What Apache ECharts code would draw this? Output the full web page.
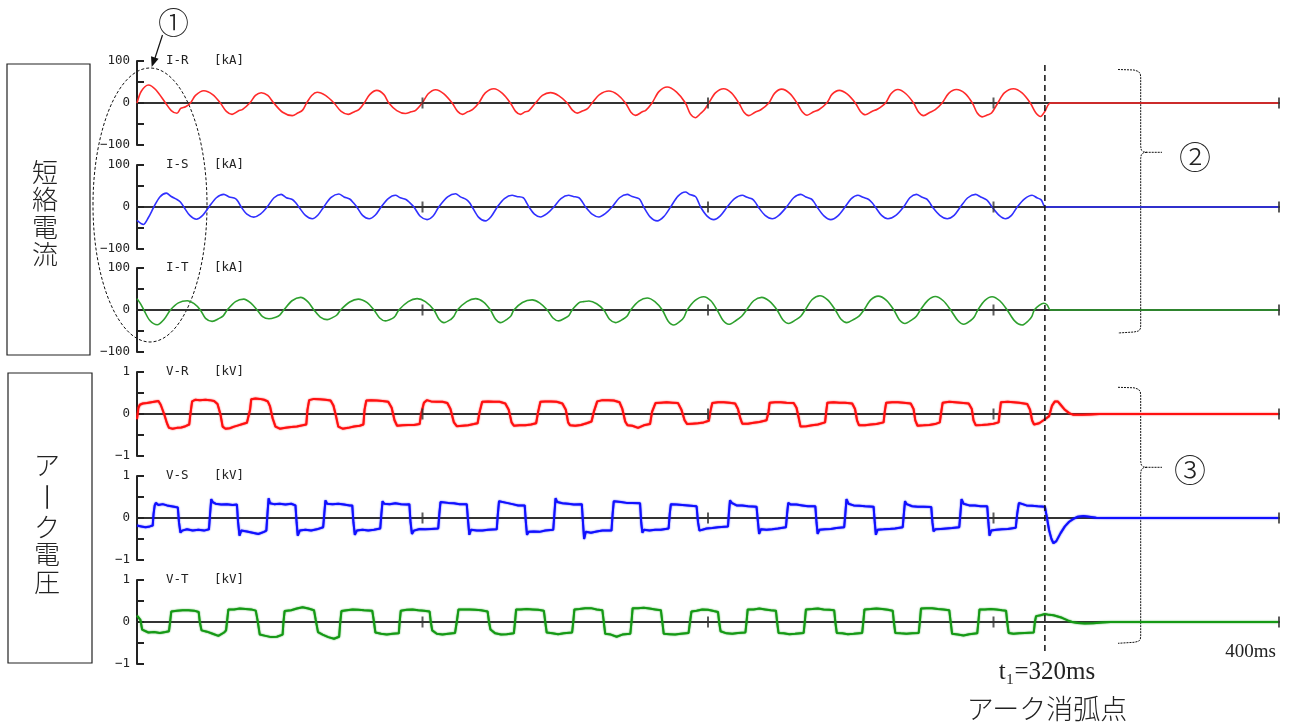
<!DOCTYPE html>
<html><head><meta charset="utf-8">
<script src="https://cdn.jsdelivr.net/npm/echarts@6/dist/echarts.min.js"></script>
<style>html,body{margin:0;padding:0;background:#fff}#c{width:1290px;height:727px}</style>
</head><body><div id="c"></div>
<script>
// ---- data (time ms, value) ----
const panelNames = ['I-R','I-S','I-T','V-R','V-S','V-T'];
const panelUnits = ['[kA]','[kA]','[kA]','[kV]','[kV]','[kV]'];
const currentTicks = ['−100','0','100'];
const voltageTicks = ['−1','0','1'];
const xTicks = [100,200,300,400];
const arcEnd = 318;
const arcLabel = 't₁=320ms';
const arcText = 'アーク消弧点';
const endLabel = '400ms';
const groupLabels = ['短絡電流','アーク電圧'];
const marks = ['①','②','③'];

const iR = [
[0,0],[1.5,28],[4,43],[6.5,32],[10,0],[12,-18],[14,-24.5],[15.3,-13],[17,-9],[18.7,0],
[20.5,18],[23.4,29],[26.5,20],[29.2,0],[31.3,-20],[33.3,-27],[35.5,-19],[37,-15],[39.5,0],
[41.5,18],[43.5,24.5],[45.8,18],[47.9,0],[51,-22],[54.4,-30],[56.3,-24],[58,-17],[59.4,0],
[61.2,18],[63.1,25.5],[66,18],[69,0],[71.5,-20],[74,-27],[76.3,-20],[77.7,-16],[79.6,0],
[81.5,20],[84,30],[86.5,20],[88.2,0],[91,-18],[94,-25],[96,-21],[97.6,-17.5],[99.9,0],
[102,22],[104.6,31.7],[107.5,22],[110.4,0],[112.3,-20],[114,-27],[115.8,-21],[117.5,-16],[119.7,0],
[122,24],[125,34],[128,23],[130.8,0],[132.6,-20],[134.3,-27],[136,-21],[137.2,-19],[139.6,0],
[142,18],[144.8,24.6],[147.8,17],[150.7,0],[152.5,-17],[154.2,-24],[156,-19],[157.8,-13.5],[159.4,0],
[162,20],[165.3,28.6],[168.3,20],[171.1,0],[173,-22],[174.6,-29.4],[177,-21],[178.2,-17.5],[180.4,0],
[182.8,27],[185.7,38],[189,26],[192.1,0],[193.8,-26],[195.6,-35],[197.4,-25],[198.6,-17.5],[200.3,0],
[202.6,24],[205.5,34],[208.2,24],[210.8,0],[212.6,-22],[214.3,-30],[216.5,-22],[218.5,-16],[221.3,0],
[223.3,23],[225.8,33],[228.6,23],[231.2,0],[233,-21],[234.7,-29],[237,-21],[238.8,-16],[241.6,0],
[243.5,21],[246,30],[248.8,21],[251.6,0],[253.4,-20],[255.1,-28],[257.4,-20],[259.3,-15],[262.2,0],
[264.1,22],[266.5,32],[269.3,22],[272,0],[273.8,-22],[275.5,-30],[277.8,-22],[279.6,-16],[282,0],
[284.3,23],[287,32],[290,23],[292.6,0],[294.3,-24],[296,-33],[298,-28],[299.3,-24],[301.5,0],
[303.8,24],[307,34],[310,24],[312.9,0],[314.8,-23],[316.5,-32],[318,-20],[320,0],[400,0]
];
const iS = [
[0,-32],[2.2,-41.6],[4,-25],[5.9,0],[8,24],[10.3,33],[12,25],[14,18],[15.2,12],[16.4,0],[18.5,-20],[20.8,-29],[23,-20],[25.2,0],
[27.8,22],[30.4,30],[32.3,24],[34.5,20],[35.5,12],[36.5,0],[38.5,-17],[40.9,-24],[43.2,-17],[45.6,0],
[48,22],[50.5,30],[52.3,22],[54.4,18],[55.6,10],[56.7,0],[59,-20],[61.4,-28],[63.4,-19],[65.4,0],
[68,23],[70.7,31],[72.5,24],[74.5,19],[75.8,10],[77,0],[79,-20],[81.3,-28],[83.5,-19],[85.5,0],
[88,20],[90.5,27.8],[92.2,22],[94.2,18],[95.6,10],[97,0],[99.2,-22],[101.6,-30],[103.8,-21],[105.7,0],
[108.8,24],[111.6,31.7],[113.3,24],[115.4,17.5],[116.5,10],[117.4,0],[119.6,-24],[122,-33],[124,-23],[126.2,0],
[128.7,20],[131.4,27.8],[133,25],[135.3,22],[136.3,12],[137.3,0],[139.2,-17],[141.3,-23.8],[143.6,-16],[146,0],
[148.5,20],[151.2,27.8],[152.8,25],[154.8,22],[156,12],[157.1,0],[159.4,-17],[161.8,-23.8],[164,-16],[166.4,0],
[169,22],[171.7,30],[173.4,25],[175.8,20],[176.7,11],[177.5,0],[179.8,-24],[182.2,-33],[184.5,-23],[186.9,0],
[189.5,26],[192.1,35.7],[193.6,30],[195.6,25],[196.5,14],[197.4,0],[199.6,-21],[202,-30],[204.3,-21],[206.7,0],
[209.3,20],[212,28],[213.7,23],[215.5,19],[216.6,11],[217.6,0],[220,-20],[222.5,-28],[224.8,-20],[227.5,0],
[230,22],[232.5,30],[234.3,24],[236.2,19],[237.2,11],[238.2,0],[240.6,-21],[243,-30],[245.5,-21],[248,0],
[250.2,20],[252.5,28],[254.3,23],[256.3,18],[257.5,10],[258.6,0],[260.8,-20],[263,-28],[265.8,-20],[268.5,0],
[270.7,22],[273,30],[274.8,24],[276.6,19],[277.6,11],[278.6,0],[281.2,-20],[283.8,-28],[286.2,-20],[288.4,0],
[291,22],[293.7,30],[295.5,24],[297.6,17],[298.6,9],[299.5,0],[302,-20],[304.2,-28],[306.3,-20],[308.3,0],
[311,20],[313.5,28],[315.2,22],[316.7,17],[318.3,0],[400,0]
];
const iT = [
[0,27],[1.2,15],[2.4,0],[4.5,-25],[7.1,-35],[9.5,-22],[11.7,0],[14.5,17],[17.6,22],[20,15],[22.2,0],[24,-20],[26.3,-27],[28.8,-20],[30.2,-14],[31.6,0],
[34.5,20],[37.4,26],[39.8,17],[42.1,0],[44,-16],[46.2,-21],[48.6,-17],[50,-12],[51.4,0],
[54.3,22],[57.3,30],[59.8,20],[62,0],[64.2,-17],[66.6,-23],[68.8,-17],[70,-12],[71.3,0],
[74.5,19],[77.5,26],[80.5,18],[83,0],[85,-19],[87,-26],[89.5,-20],[90.5,-14],[91.7,0],
[95,20],[98.1,27],[101,20],[104,0],[105.8,-22],[107.5,-30],[110,-22],[111,-15],[112.2,0],
[115.5,20],[118.6,27],[121.4,19],[123.8,0],[125.6,-22],[127.3,-30],[129.8,-21],[131,-14],[132,0],
[135,18],[138.4,24],[141,17],[143.7,0],[145.7,-19],[147.7,-26],[150,-19],[151.3,-13],[152.4,0],
[155,18],[156.5,20],[158.3,21.4],[161,15],[163.5,0],[165.5,-22],[167.6,-30],[170.2,-22],[171.6,-15],[172.9,0],
[175.8,21],[178.7,28.6],[181.4,20],[184,0],[186,-26],[188,-35.7],[190.4,-26],[191.6,-17],[192.7,0],
[195.5,23],[198.5,31.7],[201,22],[203.2,0],[205.3,-25],[207.3,-34],[209.8,-25],[211.8,-15],[213.5,0],
[216,22],[218.8,30],[221.5,21],[224.2,0],[226.2,-23],[228.3,-32],[230.8,-23],[232.5,-15],[234,0],
[236.5,25],[239.2,34],[241.9,24],[244.6,0],[246.6,-22],[248.6,-30],[251.2,-22],[253,-14],[254.6,0],
[257,24],[259.6,33],[262.5,23],[265.1,0],[267,-23],[269,-32],[271.5,-23],[273,-15],[274.4,0],
[277,23],[279.6,32],[282.4,22],[285,0],[287.5,-25],[289.6,-34],[292,-25],[293.3,-16],[294.5,0],
[297,23],[299.5,31.7],[302.2,22],[304.8,0],[307.4,-26],[310,-35.7],[312.3,-25],[313.4,-16],[314.3,0],
[316,11],[317.6,16],[318.8,12],[320,0],[400,0]
];
const vR = [
[0,-0.12],[0.5,0.15],[1,0.22],[2,0.25],[3.5,0.26],[5,0.28],[6.5,0.3],[7.5,0.31],[8.3,0.22],[9.5,0.0],[10.5,-0.22],[11.2,-0.33],[12.5,-0.35],[14,-0.33],[15.5,-0.32],[17,-0.29],[18.3,-0.25],[18.7,0],[19.3,0.3],
[20.5,0.34],[22,0.33],[24,0.34],[25.5,0.33],[27,0.31],[28.2,0.24],[29.2,0],[30,-0.3],[31,-0.35],[32.5,-0.34],[34,-0.3],[35.5,-0.27],[37,-0.24],[38.5,-0.21],[39.2,-0.18],[39.6,0.1],[40,0.35],
[41.5,0.37],[43,0.36],[44.5,0.34],[45.8,0.3],[46.6,0.18],[47.5,-0.1],[48.5,-0.3],[50,-0.35],[52,-0.33],[54,-0.31],[56,-0.3],[58,-0.27],[59.3,-0.25],[59.7,0.1],[60.3,0.33],
[62,0.36],[64,0.35],[66,0.34],[67.8,0.32],[68.8,0.2],[69.7,-0.05],[70.5,-0.3],[72,-0.35],[74,-0.33],[76,-0.3],[78,-0.28],[79.3,-0.25],[79.7,0.1],[80.3,0.32],
[82,0.33],[84,0.32],[86,0.31],[88,0.29],[89.2,0.15],[90.2,-0.15],[91.1,-0.28],[93,-0.27],[95,-0.26],[97,-0.26],[99,-0.24],[99.5,0],[100.5,0.27],
[101.5,0.33],[103,0.3],[105,0.29],[107,0.29],[108.7,0.26],[109.8,0.12],[111,-0.2],[112,-0.29],[114,-0.28],[116,-0.27],[118,-0.24],[119.3,-0.22],[120,0.05],[120.9,0.29],
[123,0.3],[125,0.29],[127,0.29],[129,0.25],[130.2,0.1],[131.2,-0.2],[132,-0.28],[134,-0.27],[136,-0.27],[138,-0.25],[139.8,-0.22],[140.5,0.05],[141.3,0.29],
[143,0.3],[145,0.3],[147,0.29],[149,0.25],[150.2,0.1],[151,-0.2],[151.7,-0.27],[153.5,-0.28],[155.5,-0.26],[157.5,-0.22],[159.2,-0.18],[160,0.05],[161.2,0.3],
[163,0.33],[165,0.33],[167,0.32],[169,0.28],[170,0.12],[171,-0.18],[171.8,-0.27],[173.5,-0.28],[175.5,-0.33],[177.5,-0.27],[179.7,-0.24],[180.4,0.05],[181.6,0.26],
[183.5,0.27],[185.5,0.28],[187.5,0.27],[189.5,0.26],[190.7,0.1],[191.8,-0.15],[192.7,-0.24],[194.5,-0.23],[196.5,-0.22],[198.5,-0.2],[200.3,-0.16],[200.8,0.05],[201.5,0.26],
[203.5,0.28],[205.5,0.28],[207.5,0.27],[209.5,0.25],[210.5,0.12],[211.3,-0.1],[212,-0.23],[214,-0.23],[216,-0.21],[218,-0.19],[220.5,-0.15],[221.2,0.05],[221.6,0.27],
[223.5,0.28],[225.5,0.28],[227.5,0.27],[230,0.26],[231,0.15],[231.8,-0.1],[232.4,-0.3],[234.5,-0.29],[236.5,-0.27],[238.5,-0.25],[241,-0.2],[241.4,0.05],[241.8,0.27],
[244,0.28],[246,0.27],[248,0.27],[250.5,0.25],[251.5,0.12],[252.2,-0.15],[252.9,-0.27],[255,-0.27],[257,-0.25],[259,-0.24],[261.5,-0.2],[261.9,0.05],[262.4,0.27],
[264.5,0.28],[266.5,0.28],[268.5,0.27],[271,0.25],[272,0.12],[272.6,-0.15],[273.4,-0.28],[275.5,-0.27],[277.5,-0.26],[279.5,-0.24],[281.2,-0.2],[281.7,0.05],[282.2,0.27],
[284.5,0.29],[286.5,0.28],[288.5,0.27],[291.3,0.25],[292.4,0.12],[293,-0.15],[293.8,-0.27],[296,-0.26],[298,-0.25],[300,-0.23],[301.8,-0.2],[302.2,0.05],[302.6,0.28],
[305,0.29],[307,0.28],[309,0.27],[311.8,0.24],[312.8,0.1],[313.5,-0.15],[314.2,-0.25],[316,-0.22],[317.5,-0.15],[318.5,-0.1],[319.5,-0.05],[320.5,0.2],[321.5,0.3],[322.5,0.3],[323.5,0.22],[325,0.1],[326.5,0.02],[328,-0.02],[331,-0.02],[334,-0.01],[337,0],[400,0]
];
const vS = [
[0,-0.18],[1.5,-0.2],[3,-0.22],[4.5,-0.2],[5.5,-0.18],[5.8,0.1],[6.2,0.3],[6.6,0.36],[7.5,0.31],[9,0.33],[10.5,0.3],[12,0.28],[13.5,0.26],[14.3,0.25],[14.7,-0.1],[15.2,-0.35],[15.8,-0.3],[17.5,-0.27],[19.5,-0.3],[21.5,-0.28],[23.5,-0.3],[25.2,-0.27],
[25.6,0.1],[26,0.45],[26.5,0.38],[27.5,0.34],[29.5,0.32],[31.5,0.33],[33.5,0.31],[35,0.32],[35.4,-0.1],[35.9,-0.42],[36.5,-0.3],[38.5,-0.32],[40.5,-0.35],[42.5,-0.38],[44.5,-0.33],[45.3,-0.3],
[45.7,0.1],[46.1,0.47],[46.6,0.35],[48,0.33],[50,0.34],[52,0.32],[54,0.34],[55.5,0.3],[55.9,-0.1],[56.3,-0.42],[57,-0.3],[59,-0.28],[61,-0.3],[63,-0.27],[65.2,-0.22],
[65.6,0.1],[66,0.42],[66.6,0.34],[68.5,0.33],[70.5,0.34],[72.5,0.32],[74.5,0.3],[75.4,0.3],[75.8,-0.1],[76.3,-0.4],[77,-0.3],[79,-0.28],[81,-0.3],[83,-0.28],[85.2,-0.25],
[85.6,0.1],[86,0.4],[86.6,0.34],[88.5,0.33],[90.5,0.35],[92.5,0.33],[94.5,0.32],[95.4,0.33],[95.8,-0.1],[96.3,-0.38],[97,-0.3],[99,-0.26],[101,-0.27],[103,-0.26],[105.5,-0.25],
[105.9,0.1],[106.3,0.38],[107,0.35],[109,0.36],[111,0.35],[113,0.33],[115.5,0.33],[116,-0.1],[116.4,-0.4],[117,-0.28],[119,-0.3],[121,-0.3],[123,-0.28],[126,-0.27],
[126.4,0.1],[126.8,0.4],[127.5,0.37],[129.5,0.36],[131.5,0.33],[133.5,0.3],[135.8,0.3],[136.2,-0.1],[136.6,-0.4],[137.2,-0.33],[139,-0.32],[141,-0.33],[143,-0.3],[145.8,-0.28],
[146.2,0.1],[146.6,0.47],[147.2,0.38],[149,0.35],[151,0.34],[153,0.32],[155.8,0.33],[156.2,-0.1],[156.6,-0.5],[157.2,-0.33],[159,-0.35],[161,-0.32],[163,-0.3],[166.2,-0.3],
[166.6,0.1],[167,0.4],[167.6,0.37],[169.5,0.38],[171.5,0.36],[173.5,0.36],[176.2,0.35],[176.6,-0.1],[177,-0.35],[177.6,-0.28],[179.5,-0.3],[181.5,-0.28],[183.5,-0.28],[186.2,-0.25],
[186.6,0.1],[187,0.33],[189,0.32],[191,0.31],[193,0.3],[196,0.28],[196.5,-0.1],[197,-0.3],[197.6,-0.26],[199.5,-0.25],[201.5,-0.24],[203.5,-0.22],[207,-0.2],
[207.3,0.1],[207.7,0.42],[208.3,0.36],[210,0.3],[212,0.3],[214,0.28],[217,0.27],[217.5,-0.1],[217.9,-0.38],[218.5,-0.27],[220.5,-0.28],[222.5,-0.27],[224.5,-0.25],[227.3,-0.22],
[227.7,0.1],[228.1,0.36],[229,0.32],[231,0.32],[233,0.3],[235,0.28],[237.6,0.28],[238,-0.1],[238.4,-0.38],[239,-0.28],[241,-0.27],[243,-0.26],[245,-0.24],[247.7,-0.22],
[248.1,0.1],[248.5,0.45],[249.2,0.34],[251,0.3],[253,0.29],[255,0.28],[258,0.27],[258.4,-0.1],[258.8,-0.4],[259.4,-0.28],[261.5,-0.27],[263.5,-0.26],[265.5,-0.25],[268.2,-0.22],
[268.6,0.1],[269,0.4],[269.6,0.33],[271.5,0.28],[273.5,0.27],[275.5,0.27],[278.2,0.26],[278.6,-0.1],[279,-0.32],[279.6,-0.27],[281.5,-0.26],[283.5,-0.25],[285.5,-0.24],[288,-0.22],
[288.4,0.1],[288.8,0.45],[289.5,0.34],[291.5,0.3],[293.5,0.3],[295.5,0.28],[297.8,0.28],[298.2,-0.1],[298.6,-0.42],[299.2,-0.3],[301,-0.28],[303,-0.27],[305,-0.26],[307.8,-0.23],
[308.3,0.1],[308.9,0.36],[309.6,0.32],[311.5,0.3],[313.5,0.29],[315.5,0.28],[318,0.27],[318.6,0.05],[319.5,-0.3],[320.3,-0.5],[321,-0.6],[322,-0.55],[323.5,-0.36],[325,-0.2],[326.5,-0.09],[328,-0.02],[329.5,0.03],[331.5,0.045],[333.5,0.03],[336,0.005],[340,0],[400,0]
];
const vT = [
[0,0.15],[0.6,0.18],[1.2,0.05],[1.8,-0.18],[2.5,-0.22],[4,-0.25],[6,-0.24],[8,-0.26],[10,-0.24],[11.2,-0.22],[11.6,0],[12,0.25],[14,0.27],[16,0.28],[18,0.28],[20,0.27],[21.6,0.24],
[22,0],[22.6,-0.2],[24.5,-0.23],[26.5,-0.28],[28.5,-0.33],[30.5,-0.25],[31.2,-0.2],[31.6,0.05],[32,0.3],[34,0.3],[36,0.32],[38,0.31],[40,0.3],[41.6,0.27],
[42.2,0.05],[43,-0.3],[45,-0.33],[47,-0.36],[49,-0.35],[51,-0.3],[51.3,0],[51.7,0.26],[54,0.28],[56,0.32],[58,0.35],[60,0.32],[62,0.28],
[62.6,0.05],[63.4,-0.24],[65,-0.3],[67,-0.36],[69,-0.4],[70.8,-0.35],[71.2,0],[71.6,0.26],[73.5,0.28],[75.5,0.3],[77.5,0.29],[79.5,0.28],[82.4,0.27],
[82.9,0.05],[83.5,-0.25],[85.5,-0.28],[87.5,-0.3],[89.5,-0.28],[91.7,-0.27],[92,0],[92.4,0.27],[94.5,0.29],[96.5,0.3],[98.5,0.28],[100.5,0.27],[102.5,0.25],
[102.9,0],[103.4,-0.2],[105,-0.28],[107,-0.3],[109,-0.28],[111.4,-0.26],[112,0],[112.6,0.3],[114.5,0.3],[116.5,0.3],[118.5,0.29],[120.5,0.28],[122.8,0.25],
[123.3,0],[123.8,-0.18],[125.5,-0.27],[127.5,-0.3],[129.5,-0.29],[132,-0.27],[132.4,0],[132.8,0.3],[134.5,0.3],[136.5,0.31],[138.5,0.3],[140.5,0.29],[142.5,0.27],
[143,0],[143.5,-0.25],[145.5,-0.27],[147.5,-0.29],[149.5,-0.27],[152.4,-0.25],[152.8,0],[153.2,0.3],[155,0.31],[157,0.33],[159,0.33],[161,0.3],[163,0.28],
[163.5,0],[164,-0.28],[166,-0.3],[168,-0.35],[170,-0.3],[172.8,-0.28],[173.2,0],[173.6,0.33],[175.5,0.33],[177.5,0.34],[179.5,0.32],[181.5,0.3],[183.5,0.28],
[184,0],[184.5,-0.28],[186.5,-0.29],[188.5,-0.3],[190.5,-0.28],[193.2,-0.26],[193.7,0],[194.2,0.25],[196,0.27],[198,0.3],[200,0.29],[202,0.26],[203.5,0.24],
[203.9,0],[204.4,-0.22],[206.5,-0.27],[208.5,-0.28],[210.5,-0.26],[213.1,-0.25],[213.5,0],[213.9,0.3],[216,0.3],[218,0.32],[220,0.3],[222,0.28],[223.8,0.27],
[224.2,0],[224.7,-0.26],[226.5,-0.27],[228.5,-0.29],[230.5,-0.28],[233.5,-0.26],[233.9,0],[234.3,0.3],[236.5,0.31],[238.5,0.32],[240.5,0.3],[242.5,0.29],[244.2,0.28],
[244.6,0],[245.1,-0.26],[247,-0.27],[249,-0.29],[251,-0.28],[254,-0.26],[254.4,0],[254.8,0.3],[257,0.31],[259,0.32],[261,0.31],[263,0.29],[264.7,0.27],
[265.1,0],[265.6,-0.26],[267.5,-0.27],[269.5,-0.28],[271.5,-0.27],[273.8,-0.26],[274.2,0],[274.6,0.32],[276.5,0.33],[278.5,0.33],[280.5,0.31],[282.5,0.3],[284.5,0.28],
[285,0],[285.5,-0.28],[287.5,-0.3],[289.5,-0.32],[291.5,-0.29],[294.3,-0.27],[294.7,0],[295.1,0.3],[297,0.3],[299,0.31],[301,0.3],[303,0.28],[304.4,0.27],
[304.8,0],[305.3,-0.26],[307,-0.28],[309,-0.27],[311,-0.26],[314.1,-0.25],[314.5,0],[314.9,0.14],[316.5,0.16],[318,0.19],[319.5,0.17],[321,0.16],[322.5,0.13],[324,0.1],[326,0.04],[327.5,0],[329.5,-0.025],[332,-0.035],[335,-0.03],[338,-0.01],[341,0],[400,0]
];

// ---- layout / style ----
const seriesData = [iR, iS, iT, vR, vS, vT];
const colors = ['#ff2a2a','#3030ff','#2ea02e','#ff1010','#1010ff','#159915'];
const tops = [61,165,268,372,476,580];
const PH = 84, PL = 137, PW = 1142;
const labelFont = '"DejaVu Sans Mono", monospace';

const chart = echarts.init(document.getElementById('c'), null, {renderer:'canvas'});
const grid = [], xAxis = [], yAxis = [], series = [];
for (let i = 0; i < 6; i++) {
  const isV = i >= 3;
  const ticks = isV ? voltageTicks : currentTicks;
  const mx = isV ? 1 : 100;
  grid.push({left: PL, top: tops[i], width: PW, height: PH});
  xAxis.push({type:'value', gridIndex:i, min:0, max:400, interval:100,
    axisLine:{show:true, onZero:true, lineStyle:{color:'#333', width:2}},
    axisTick:{show:false}, axisLabel:{show:false}, splitLine:{show:false}});
  yAxis.push({type:'value', gridIndex:i, min:-mx, max:mx, interval:mx/2,
    axisLine:{show:true, lineStyle:{color:'#222', width:2}},
    axisTick:{show:true, inside:true, length:7, lineStyle:{color:'#222', width:2}},
    axisLabel:{show:true, margin:7, color:'#222', fontFamily:labelFont, fontSize:12.5,
      formatter: v => v === -mx ? ticks[0] : v === 0 ? ticks[1] : v === mx ? ticks[2] : ''},
    splitLine:{show:false}});
  series.push({type:'line', xAxisIndex:i, yAxisIndex:i, data:seriesData[i],
    showSymbol:false, smooth: isV ? false : 0.3, z:3,
    lineStyle: isV ? {color:colors[i], width:2, shadowBlur:1.5, shadowColor:colors[i]}
                   : {color:colors[i], width:1.6}, animation:false});
  series.push({type:'scatter', xAxisIndex:i, yAxisIndex:i, data:xTicks.map(t=>[t,0]),
    symbol:'rect', symbolSize:[2,11], clip:false, z:4,
    itemStyle:{color:'#333'}, silent:true, animation:false});
}
chart.setOption({animation:false, grid, xAxis, yAxis, series});

const G = [];
const txt = (x, y, text, font, align, extra) => Object.assign({type:'text', x, y, z:10,
  style:{text, font, fill:'#222', textAlign:align||'center', align:align||'center',
         textVerticalAlign:'middle', verticalAlign:'middle'}}, extra||{});
// panel titles
for (let i = 0; i < 6; i++) {
  G.push(txt(166, tops[i], panelNames[i], '12.5px ' + labelFont, 'left'));
  G.push(txt(214, tops[i], panelUnits[i], '12.5px ' + labelFont, 'left'));
}
// group boxes
G.push({type:'rect', shape:{x:7,y:64,width:83,height:291}, style:{fill:'none', stroke:'#222', lineWidth:1.2}});
G.push({type:'rect', shape:{x:8,y:373,width:84,height:290}, style:{fill:'none', stroke:'#222', lineWidth:1.2}});
const cjk = '"Noto Sans CJK JP"';
const g1 = Array.from(groupLabels[0]);
const g1y = [172, 199.5, 227, 254.5];
g1.forEach((ch, k) => G.push(txt(45, g1y[k], ch, '300 26px ' + cjk)));
const g2 = Array.from(groupLabels[1]);
const g2y = [465, 497, 527.5, 554.5, 582];
g2.forEach((ch, k) => {
  if (ch === 'ー') G.push(txt(47, g2y[k], ch, '300 30px ' + cjk, 'center', {rotation: -Math.PI/2}));
  else G.push(txt(47, g2y[k], ch, '300 26px ' + cjk));
});
// ellipse (1) and arrow
G.push({type:'ellipse', shape:{cx:150, cy:205, rx:57, ry:137}, style:{fill:'none', stroke:'#111', lineWidth:1, lineDash:[3,2]}});
G.push({type:'line', shape:{x1:162.5, y1:35, x2:155, y2:58}, style:{stroke:'#111', lineWidth:1.2}});
G.push({type:'polygon', shape:{points:[[151.7,67],[158.6,58.7],[151,56.3]]}, style:{fill:'#111'}});
G.push(txt(173.5, 22, marks[0], '300 31px ' + cjk));
// braces
const braceStyle = {fill:'none', stroke:'#111', lineWidth:1, lineDash:[2,1]};
function brace(yTop, yMid, yBot) {
  G.push({type:'polyline', shape:{points:[[1118,yTop],[1134,yTop+0.5],[1138.5,yTop+2],[1140.3,yTop+4.5],[1140.7,yTop+7.5],
    [1140.7,yMid-6],[1141.3,yMid-2.3],[1143.5,yMid-0.5],[1147,yMid],[1162,yMid]]}, style:braceStyle});
  G.push({type:'polyline', shape:{points:[[1147,yMid],[1143.5,yMid+0.5],[1141.3,yMid+2.3],[1140.7,yMid+6],
    [1140.7,yBot-7],[1140.3,yBot-4],[1138.5,yBot-2],[1134,yBot-1],[1118,yBot]]}, style:braceStyle});
}
brace(69.5, 152.3, 333);
brace(387.3, 467.3, 643.3);
G.push(txt(1195, 157, marks[1], '300 32px ' + cjk));
G.push(txt(1190, 470, marks[2], '300 32px ' + cjk));
// arc extinction line + texts
const xPix = chart.convertToPixel({xAxisIndex:0}, arcEnd);
G.push({type:'line', z:9, shape:{x1:xPix, y1:65, x2:xPix, y2:653}, style:{stroke:'#111', lineWidth:1.5, lineDash:[6,4]}});
const serif = '"Liberation Serif", "DejaVu Serif", serif';
G.push(txt(1047, 672, arcLabel, '25px ' + serif));
G.push(txt(1047, 709, arcText, '300 27px ' + cjk));
G.push(txt(1276, 652, endLabel, '19px ' + serif, 'right'));
chart.setOption({graphic: G});
</script></body></html>
